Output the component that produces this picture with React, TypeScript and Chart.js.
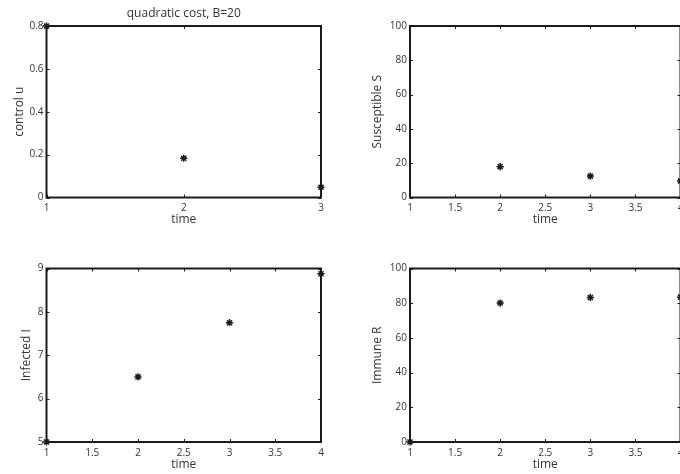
import React, { useEffect, useRef } from "react";
import { Chart, registerables } from "chart.js";

Chart.register(...registerables);

// ---- data ----
const timeShort = [1, 2, 3];
const controlU = [0.8, 0.183, 0.048];

const timeLong = [1, 2, 3, 4];
const susceptibleS: (number | null)[] = [null, 18.0, 12.5, 9.6];
const infectedI = [5, 6.5, 7.75, 8.88];
const immuneR = [0, 80.1, 83.3, 83.5];

// ---- tick labels ----
const xTicksShort = [1, 2, 3];
const xTicksLong = [1, 1.5, 2, 2.5, 3, 3.5, 4];
const uTicks = [0, 0.2, 0.4, 0.6, 0.8];
const sTicks = [0, 20, 40, 60, 80, 100];
const iTicks = [5, 6, 7, 8, 9];
const rTicks = [0, 20, 40, 60, 80, 100];

const FONT = "'Open Sans', 'Liberation Sans', sans-serif";
const TEXT = "#333";
const INK = "#1a1a1a";

type Panel = {
  cx: number; cy: number; cw: number; ch: number;
  plot: { left: number; top: number; right: number; bottom: number };
  xs: number[]; ys: (number | null)[];
  xTicks: number[]; yTicks: number[];
  yTitle: string; yTitlePad: number; xTitlePad: number;
  title?: string;
};

const framePlugin = {
  id: "matlabFrame",
  beforeDatasetsDraw(chart: any) {
    const { ctx, chartArea: a, scales } = chart;
    ctx.save();
    ctx.strokeStyle = INK;
    ctx.lineWidth = 1;
    const tl = 3;
    ctx.beginPath();
    scales.x.ticks.forEach((t: any) => {
      const x = Math.round(scales.x.getPixelForValue(t.value)) + 0.5;
      ctx.moveTo(x, a.bottom); ctx.lineTo(x, a.bottom - tl);
      ctx.moveTo(x, a.top); ctx.lineTo(x, a.top + tl);
    });
    scales.y.ticks.forEach((t: any) => {
      const y = Math.round(scales.y.getPixelForValue(t.value)) + 0.5;
      ctx.moveTo(a.left, y); ctx.lineTo(a.left + tl, y);
      ctx.moveTo(a.right, y); ctx.lineTo(a.right - tl, y);
    });
    ctx.stroke();
    ctx.lineWidth = 2;
    ctx.strokeRect(a.left, a.top, a.right - a.left, a.bottom - a.top);
    ctx.restore();
  },
};

const fmt = (v: any) => String(Number(v));

function SubPlot({ p }: { p: Panel }) {
  const ref = useRef<HTMLCanvasElement>(null);
  useEffect(() => {
    if (!ref.current) return;
    const yAxisWidth = p.plot.left - p.cx;
    const xAxisHeight = p.cy + p.ch - p.plot.bottom;
    const padTop = p.title ? 0 : p.plot.top - p.cy;
    const padRight = p.cx + p.cw - p.plot.right;
    const pts = p.xs.map((x, i) => ({ x, y: p.ys[i] }));
    const chart = new Chart(ref.current, {
      type: "scatter",
      data: {
        datasets: [
          {
            data: pts as any,
            showLine: false,
            pointStyle: "star",
            pointRadius: 3.6,
            pointBorderWidth: 1.5,
            pointBorderColor: INK,
            pointBackgroundColor: INK,
            clip: false as any,
          },
        ],
      },
      options: {
        animation: false,
        responsive: false,
        layout: { padding: { top: padTop, right: padRight, left: 0, bottom: 0 } },
        plugins: {
          legend: { display: false },
          tooltip: { enabled: false },
          title: {
            display: !!p.title,
            text: p.title || "",
            fullSize: false,
            color: TEXT,
            font: { family: FONT, size: 12, weight: "normal" },
            padding: { top: 6, bottom: 5.6 },
          },
        },
        scales: {
          x: {
            type: "linear",
            min: p.xTicks[0],
            max: p.xTicks[p.xTicks.length - 1],
            grid: { display: false, drawTicks: false },
            border: { display: false },
            afterBuildTicks: (s: any) => { s.ticks = p.xTicks.map((v) => ({ value: v })); },
            afterFit: (s: any) => { s.height = xAxisHeight; },
            ticks: {
              autoSkip: false,
              maxRotation: 0,
              padding: 5,
              color: TEXT,
              font: { family: FONT, size: 10 },
              callback: fmt,
            },
            title: {
              display: true,
              text: "time",
              color: TEXT,
              font: { family: FONT, size: 12 },
              padding: { top: 0, bottom: p.xTitlePad },
            },
          },
          y: {
            type: "linear",
            min: p.yTicks[0],
            max: p.yTicks[p.yTicks.length - 1],
            grid: { display: false, drawTicks: false },
            border: { display: false },
            afterBuildTicks: (s: any) => { s.ticks = p.yTicks.map((v) => ({ value: v })); },
            afterFit: (s: any) => { s.width = yAxisWidth; },
            ticks: {
              autoSkip: false,
              padding: 3,
              color: TEXT,
              font: { family: FONT, size: 10 },
              callback: fmt,
            },
            title: {
              display: true,
              text: p.yTitle,
              color: TEXT,
              font: { family: FONT, size: 12 },
              padding: { top: p.yTitlePad, bottom: 0 },
            },
          },
        },
      },
      plugins: [framePlugin],
    });
    return () => chart.destroy();
  }, [p]);
  return (
    <canvas
      ref={ref}
      width={p.cw}
      height={p.ch}
      style={{ position: "absolute", left: p.cx, top: p.cy, width: p.cw, height: p.ch, display: "block" }}
    />
  );
}

const panels: Panel[] = [
  {
    cx: 0, cy: 0, cw: 340, ch: 237,
    plot: { left: 46.5, top: 26, right: 321, bottom: 197.5 },
    xs: timeShort, ys: controlU, xTicks: xTicksShort, yTicks: uTicks,
    yTitle: "control u", yTitlePad: 12.8, xTitlePad: 9.8,
    title: "quadratic cost, B=20",
  },
  {
    cx: 340, cy: 0, cw: 400, ch: 237,
    plot: { left: 410, top: 26, right: 680.5, bottom: 197.5 },
    xs: timeLong, ys: susceptibleS, xTicks: xTicksLong, yTicks: sTicks,
    yTitle: "Susceptible S", yTitlePad: 30.8, xTitlePad: 9.8,
  },
  {
    cx: 0, cy: 237, cw: 340, ch: 237,
    plot: { left: 46.5, top: 268.5, right: 321, bottom: 442 },
    xs: timeLong, ys: infectedI, xTicks: xTicksLong, yTicks: iTicks,
    yTitle: "Infected I", yTitlePad: 19.8, xTitlePad: 2.1,
  },
  {
    cx: 340, cy: 237, cw: 400, ch: 237,
    plot: { left: 410, top: 268.5, right: 680.5, bottom: 442 },
    xs: timeLong, ys: immuneR, xTicks: xTicksLong, yTicks: rTicks,
    yTitle: "Immune R", yTitlePad: 30.8, xTitlePad: 2.1,
  },
];

export default function App() {
  return (
    <div
      style={{
        position: "absolute",
        left: 0,
        top: 0,
        width: 680,
        height: 474,
        overflow: "hidden",
        background: "#fff",
      }}
    >
      {panels.map((p, i) => (
        <SubPlot key={i} p={p} />
      ))}
    </div>
  );
}
